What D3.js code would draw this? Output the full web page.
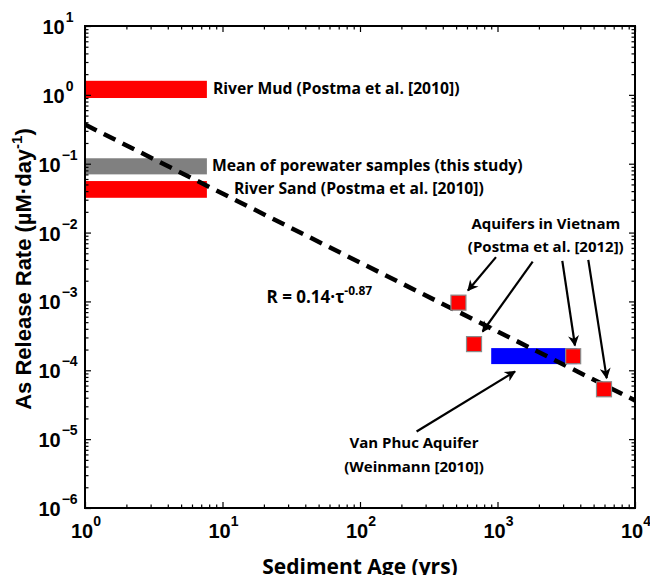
<!DOCTYPE html>
<html>
<head>
<meta charset="utf-8">
<title>As release rate vs sediment age</title>
<script src="https://d3js.org/d3.v7.min.js"></script>
<style>
  body { margin: 0; padding: 0; background: #fff; }
  .tick-label { font-family: Arial, "Liberation Sans", sans-serif; font-weight: bold; font-size: 20px; fill: #000; }
  .note { font-family: "Open Sans", Lato, sans-serif; font-weight: bold; font-size: 15px; fill: #000; }
</style>
</head>
<body>
<script>
// ---- data ----
var barLabels = ["River Mud (Postma et al. [2010])", "Mean of porewater samples (this study)", "River Sand (Postma et al. [2010])"];
var barAgeMin = [1, 1, 1];
var barAgeMax = [7.7, 7.7, 7.7];
var barRateLow = [0.9, 0.07, 0.032];
var barRateHigh = [1.6, 0.12, 0.056];
var barColors = ["#ff0000", "#808080", "#ff0000"];

var vanPhucAge = [900, 3800];
var vanPhucRate = [1.23e-4, 2.1e-4];

var aquiferAge = [520, 675, 3550, 5950];
var aquiferRate = [9.6e-4, 2.4e-4, 1.6e-4, 5.3e-5];

var fitAge = [1, 1e4];
var fitRate = [0.37, 3.65e-5];

var xTickPowers = [0, 1, 2, 3, 4];
var yTickPowers = [-6, -5, -4, -3, -2, -1, 0, 1];

// arrows: tail -> head, in data units
var aquiferArrows = [
  [[975, 4.4e-3], [610, 1.44e-3]],
  [[1803, 3.79e-3], [780, 3.66e-4]],
  [[2960, 3.88e-3], [3660, 2.29e-4]],
  [[4575, 4.02e-3], [6225, 7.7e-5]]
];
var vanPhucArrow = [[258, 1.29e-5], [1340, 9.6e-5]];

var w = 650, h = 575;
var mLeft = 85, mRight = 635, mTop = 26, mBottom = 508;

var x = d3.scaleLog().domain([1, 1e4]).range([mLeft, mRight]);
var y = d3.scaleLog().domain([1e-6, 10]).range([mBottom, mTop]);

var svg = d3.select("body").append("svg")
  .attr("width", w)
  .attr("height", h);

// minor / major tick values
var xMajor = xTickPowers.map(function(p) { return Math.pow(10, p); });
var yMajor = yTickPowers.map(function(p) { return Math.pow(10, p); });
function isMajor(d, list) {
  return list.some(function(m) { return Math.abs(Math.log10(d / m)) < 1e-6; });
}
var xMinor = x.ticks().filter(function(d) { return !isMajor(d, xMajor); });
var yMinor = y.ticks().filter(function(d) { return !isMajor(d, yMajor); });

var plot = svg.append("g");

// bars
barLabels.forEach(function(lab, i) {
  plot.append("rect")
    .attr("x", x(barAgeMin[i]))
    .attr("y", y(barRateHigh[i]))
    .attr("width", x(barAgeMax[i]) - x(barAgeMin[i]))
    .attr("height", y(barRateLow[i]) - y(barRateHigh[i]))
    .attr("fill", barColors[i]);
});

plot.append("rect")
  .attr("x", x(vanPhucAge[0]))
  .attr("y", y(vanPhucRate[1]))
  .attr("width", x(vanPhucAge[1]) - x(vanPhucAge[0]))
  .attr("height", y(vanPhucRate[0]) - y(vanPhucRate[1]))
  .attr("fill", "#0000ff");

// fit line
plot.append("line")
  .attr("x1", x(fitAge[0])).attr("y1", y(fitRate[0]))
  .attr("x2", x(fitAge[1])).attr("y2", y(fitRate[1]))
  .attr("stroke", "#000")
  .attr("stroke-width", 4.5)
  .attr("stroke-dasharray", "13,8");

// aquifer squares
var sq = 15;
aquiferAge.forEach(function(a, i) {
  plot.append("rect")
    .attr("x", x(a) - sq / 2)
    .attr("y", y(aquiferRate[i]) - sq / 2)
    .attr("width", sq)
    .attr("height", sq)
    .attr("fill", "#ff0000")
    .attr("stroke", "#8a8a8a")
    .attr("stroke-width", 1.2);
});

// arrow head
svg.append("defs").append("marker")
  .attr("id", "head")
  .attr("viewBox", "0 0 10 10")
  .attr("refX", 9).attr("refY", 5)
  .attr("markerWidth", 5.5).attr("markerHeight", 5)
  .attr("markerUnits", "strokeWidth")
  .attr("orient", "auto")
  .append("path")
  .attr("d", "M0,0 L10,5 L0,10 L3,5 Z")
  .attr("fill", "#000");

aquiferArrows.concat([vanPhucArrow]).forEach(function(a) {
  plot.append("line")
    .attr("x1", x(a[0][0])).attr("y1", y(a[0][1]))
    .attr("x2", x(a[1][0])).attr("y2", y(a[1][1]))
    .attr("stroke", "#000")
    .attr("stroke-width", 2.2)
    .attr("marker-end", "url(#head)");
});

// frame + ticks
function tickAxis(axisFn, scale, vals, size, transform) {
  svg.append("g")
    .attr("transform", transform)
    .call(axisFn(scale).tickValues(vals).tickSize(size).tickFormat(""))
    .call(function(g) { g.select(".domain").remove(); })
    .selectAll("line").attr("stroke", "#000").attr("stroke-width", 1.2);
}
tickAxis(d3.axisBottom, x, xMajor, -6, "translate(0," + mBottom + ")");
tickAxis(d3.axisBottom, x, xMinor, -3.5, "translate(0," + mBottom + ")");
tickAxis(d3.axisTop, x, xMajor, -6, "translate(0," + mTop + ")");
tickAxis(d3.axisTop, x, xMinor, -3.5, "translate(0," + mTop + ")");
tickAxis(d3.axisLeft, y, yMajor, -6, "translate(" + mLeft + ",0)");
tickAxis(d3.axisLeft, y, yMinor, -3.5, "translate(" + mLeft + ",0)");
tickAxis(d3.axisRight, y, yMajor, -6, "translate(" + mRight + ",0)");
tickAxis(d3.axisRight, y, yMinor, -3.5, "translate(" + mRight + ",0)");

svg.append("rect")
  .attr("x", mLeft).attr("y", mTop)
  .attr("width", mRight - mLeft).attr("height", mBottom - mTop)
  .attr("fill", "none")
  .attr("stroke", "#000")
  .attr("stroke-width", 2);

function fmtExp(p) { return p < 0 ? "\u2212" + (-p) : String(p); }

// x tick labels
xTickPowers.forEach(function(p) {
  var t = svg.append("text").attr("class", "tick-label")
    .attr("x", x(Math.pow(10, p)) + 1)
    .attr("y", mBottom + 30)
    .attr("text-anchor", "middle");
  t.append("tspan").text("10");
  t.append("tspan").attr("dy", -12).style("font-size", "14px").text(fmtExp(p));
});

// y tick labels (centred, as in the original)
yTickPowers.forEach(function(p) {
  var t = svg.append("text").attr("class", "tick-label")
    .attr("x", mLeft - 27)
    .attr("y", y(Math.pow(10, p)) + 8)
    .attr("text-anchor", "middle");
  t.append("tspan").text("10");
  t.append("tspan").attr("dy", -12).attr("dx", 1).style("font-size", "14px").text(fmtExp(p));
});

// axis titles
svg.append("text")
  .attr("x", 360).attr("y", 574)
  .attr("text-anchor", "middle")
  .style("font-family", "'Open Sans', Lato, sans-serif")
  .style("font-weight", "bold")
  .style("font-size", "21px")
  .text("Sediment Age (yrs)");

var yt = svg.append("text")
  .attr("transform", "translate(31,269) rotate(-90)")
  .attr("text-anchor", "middle")
  .style("font-family", "Arial, 'Liberation Sans', sans-serif")
  .style("font-weight", "bold")
  .style("font-size", "22px");
yt.append("tspan").text("As Release Rate (\u00b5M\u00b7day");
yt.append("tspan").attr("dy", -9).style("font-size", "15px").text("-1");
yt.append("tspan").attr("dy", 9).text(")");

// annotations
var noteOffsets = [6, 5, 27];
barLabels.forEach(function(lab, i) {
  svg.append("text").attr("class", "note")
    .attr("x", x(barAgeMax[i]) + noteOffsets[i])
    .attr("y", (y(barRateLow[i]) + y(barRateHigh[i])) / 2 + 5)
    .style("font-size", "15.7px")
    .text(lab);
});

svg.append("text").attr("class", "note")
  .attr("x", x(2245)).attr("y", y(0.0134) + 5)
  .attr("text-anchor", "middle")
  .text("Aquifers in Vietnam");
svg.append("text").attr("class", "note")
  .attr("x", x(2245)).attr("y", y(0.0134) + 28)
  .attr("text-anchor", "middle")
  .text("(Postma et al. [2012])");

svg.append("text").attr("class", "note")
  .attr("x", x(247)).attr("y", y(8.8e-6) + 5)
  .attr("text-anchor", "middle")
  .text("Van Phuc Aquifer");
svg.append("text").attr("class", "note")
  .attr("x", x(247)).attr("y", y(8.8e-6) + 29)
  .attr("text-anchor", "middle")
  .text("(Weinmann [2010])");

var rt = svg.append("text").attr("class", "note")
  .attr("x", x(20.9)).attr("y", y(1.15e-3) + 6)
  .style("font-size", "17px");
rt.append("tspan").text("R = 0.14\u00b7\u03c4");
rt.append("tspan").attr("dy", -8).style("font-size", "12px").text("-0.87");
</script>
</body>
</html>
